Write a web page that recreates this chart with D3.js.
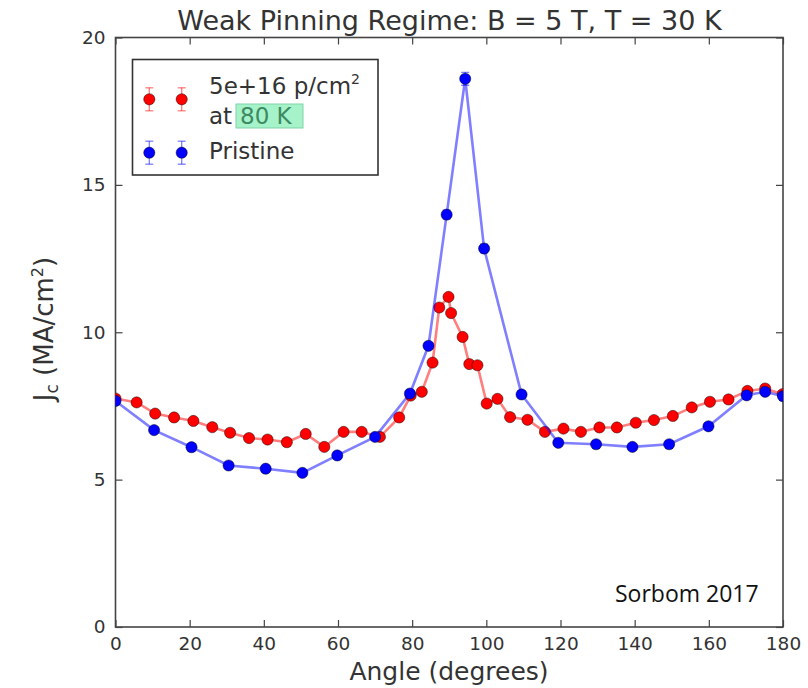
<!DOCTYPE html>
<html><head><meta charset="utf-8">
<script src="https://cdn.jsdelivr.net/npm/d3@7"></script>
<style>body{margin:0;background:#fff}</style>
</head><body><svg id="c" width="808" height="688"></svg>
<script>
const titleText = "Weak Pinning Regime: B = 5 T, T = 30 K";
const xTicks = [0,20,40,60,80,100,120,140,160,180];
const yTicks = [0,5,10,15,20];
const redLabel = "5e+16 p/cm";
const blueLabel = "Pristine";
const redAngles = [0,5.7,10.7,15.8,21.0,26.1,30.9,36.0,41.0,46.2,51.3,56.3,61.5,66.4,71.3,76.5,79.6,82.6,85.5,87.3,89.8,90.5,93.6,95.4,97.6,100.1,103.0,106.4,111.1,115.8,120.8,125.5,130.5,135.2,140.3,145.2,150.3,155.4,160.3,165.3,170.4,175.2,179.9];
const redValues = [7.75,7.62,7.24,7.11,6.99,6.78,6.59,6.41,6.36,6.27,6.55,6.11,6.62,6.62,6.45,7.11,7.85,7.98,8.97,10.84,11.2,10.65,9.84,8.92,8.88,7.58,7.74,7.12,7.03,6.62,6.73,6.62,6.77,6.77,6.93,7.02,7.16,7.45,7.64,7.72,8.01,8.09,7.90];
const blueAngles = [0,10.4,20.5,30.5,40.5,50.4,59.8,70.0,79.4,84.4,89.3,94.3,99.4,109.5,119.4,129.6,139.4,149.3,159.9,170.2,175.2,180];
const blueValues = [7.67,6.68,6.10,5.48,5.37,5.23,5.82,6.45,7.92,9.54,13.99,18.6,12.84,7.89,6.25,6.20,6.11,6.20,6.81,7.86,7.98,7.83];
const blueErrors = [0.1,0.1,0.1,0.1,0.1,0.1,0.1,0.1,0.1,0.1,0.15,0.22,0.15,0.1,0.1,0.1,0.1,0.1,0.1,0.1,0.1,0.1];

const svg = d3.select("#c");
const L = 115.5, R = 783, T = 37.5, B = 627;
const x = d3.scaleLinear().domain([0,180]).range([L,R]);
const y = d3.scaleLinear().domain([0,20]).range([B,T]);
const font = "'DejaVu Sans', sans-serif";
const txt = "#333";

svg.append("defs").append("clipPath").attr("id","clip")
  .append("rect").attr("x",L).attr("y",T).attr("width",R-L).attr("height",B-T);

// title
svg.append("text").attr("x",449.5).attr("y",30).attr("text-anchor","middle")
  .attr("font-family",font).attr("font-size",27).attr("fill",txt).text(titleText);

// axes with inward ticks
const tl = 7;
const axB = svg.append("g").attr("transform",`translate(0,${B})`)
  .call(d3.axisBottom(x).tickValues(xTicks).tickSize(-tl).tickPadding(10));
const axT = svg.append("g").attr("transform",`translate(0,${T})`)
  .call(d3.axisTop(x).tickValues(xTicks).tickSize(-tl).tickFormat(""));
const axL = svg.append("g").attr("transform",`translate(${L},0)`)
  .call(d3.axisLeft(y).tickValues(yTicks).tickSize(-tl).tickPadding(10));
const axR = svg.append("g").attr("transform",`translate(${R},0)`)
  .call(d3.axisRight(y).tickValues(yTicks).tickSize(-tl).tickFormat(""));
[axB,axT,axL,axR].forEach(a=>{
  a.select(".domain").remove();
  a.selectAll(".tick line").attr("stroke","#444").attr("stroke-width",1.2);
  a.selectAll(".tick text").attr("font-family",font).attr("font-size",18.5).attr("fill",txt);
});
svg.append("rect").attr("x",L).attr("y",T).attr("width",R-L).attr("height",B-T)
  .attr("fill","none").attr("stroke","#444").attr("stroke-width",1.6);

// axis labels
svg.append("text").attr("x",449).attr("y",680).attr("text-anchor","middle")
  .attr("font-family",font).attr("font-size",25).attr("fill",txt).text("Angle (degrees)");
const yl = svg.append("text").attr("transform",`translate(53,329) rotate(-90)`)
  .attr("text-anchor","middle").attr("font-family",font).attr("font-size",26).attr("fill",txt);
yl.append("tspan").text("J");
yl.append("tspan").attr("font-size",17).attr("dy",5).text("c");
yl.append("tspan").attr("dy",-5).text(" (MA/cm");
yl.append("tspan").attr("font-size",16).attr("dy",-10).text("2");
yl.append("tspan").attr("dy",10).text(")");

// data
const plot = svg.append("g").attr("clip-path","url(#clip)");
const line = d3.line().x(d=>x(d[0])).y(d=>y(d[1]));
function series(angles, values, errs, color){
  const pts = angles.map((a,i)=>[a,values[i],errs?errs[i]:0]);
  plot.append("path").datum(pts).attr("d",line).attr("fill","none")
    .attr("stroke",color).attr("stroke-opacity",0.5).attr("stroke-width",2.6);
  const eb = plot.append("g").attr("stroke",color).attr("stroke-opacity",0.5).attr("stroke-width",1.3);
  pts.filter(d=>d[2]>0).forEach(d=>{
    eb.append("line").attr("x1",x(d[0])).attr("x2",x(d[0])).attr("y1",y(d[1]-d[2])).attr("y2",y(d[1]+d[2]));
    [d[1]-d[2],d[1]+d[2]].forEach(v=>eb.append("line").attr("x1",x(d[0])-4).attr("x2",x(d[0])+4).attr("y1",y(v)).attr("y2",y(v)));
  });
  plot.append("g").selectAll("circle").data(pts).join("circle")
    .attr("cx",d=>x(d[0])).attr("cy",d=>y(d[1])).attr("r",5.6)
    .attr("fill",color).attr("stroke","#000").attr("stroke-opacity",0.45).attr("stroke-width",1);
}
series(redAngles, redValues, null, "#ff0000");
series(blueAngles, blueValues, blueErrors, "#0000ff");

// legend
const lg = svg.append("g");
lg.append("rect").attr("x",132.5).attr("y",59.5).attr("width",245.5).attr("height",115.5)
  .attr("fill","#fff").attr("stroke","#333").attr("stroke-width",1.6);
function legMark(cy,color){
  [149.3,181.7].forEach(cx=>{
    lg.append("line").attr("x1",cx).attr("x2",cx).attr("y1",cy-11.5).attr("y2",cy+11.5)
      .attr("stroke",color).attr("stroke-opacity",0.5).attr("stroke-width",1.3);
    [cy-11.5,cy+11.5].forEach(v=>lg.append("line").attr("x1",cx-4).attr("x2",cx+4).attr("y1",v).attr("y2",v)
      .attr("stroke",color).attr("stroke-opacity",0.5).attr("stroke-width",1.3));
    lg.append("circle").attr("cx",cx).attr("cy",cy).attr("r",5.6).attr("fill",color)
      .attr("stroke","#000").attr("stroke-opacity",0.45);
  });
}
legMark(99.3,"#ff0000");
legMark(152.7,"#0000ff");
const t1 = lg.append("text").attr("x",209).attr("y",94).attr("font-family",font).attr("font-size",23).attr("fill",txt);
t1.append("tspan").text(redLabel);
t1.append("tspan").attr("font-size",14).attr("dy",-10).text("2");
lg.append("rect").attr("x",236).attr("y",104).attr("width",67).attr("height",24)
  .attr("fill","#a6f2c9").attr("stroke","#7fd3a8").attr("stroke-width",1);
lg.append("text").attr("x",209).attr("y",124).attr("font-family",font).attr("font-size",23).attr("fill",txt).text("at");
lg.append("text").attr("x",240).attr("y",124).attr("font-family",font).attr("font-size",23).attr("fill","#3b8a63").text("80 K");
lg.append("text").attr("x",209).attr("y",159).attr("font-family",font).attr("font-size",23).attr("fill",txt).text(blueLabel);

// annotation
svg.append("text").attr("x",615).attr("y",602).attr("font-family","'Open Sans', 'Liberation Sans', sans-serif")
  .attr("font-size",23).attr("fill","#111").text("Sorbom 2017");
</script>
</body></html>
